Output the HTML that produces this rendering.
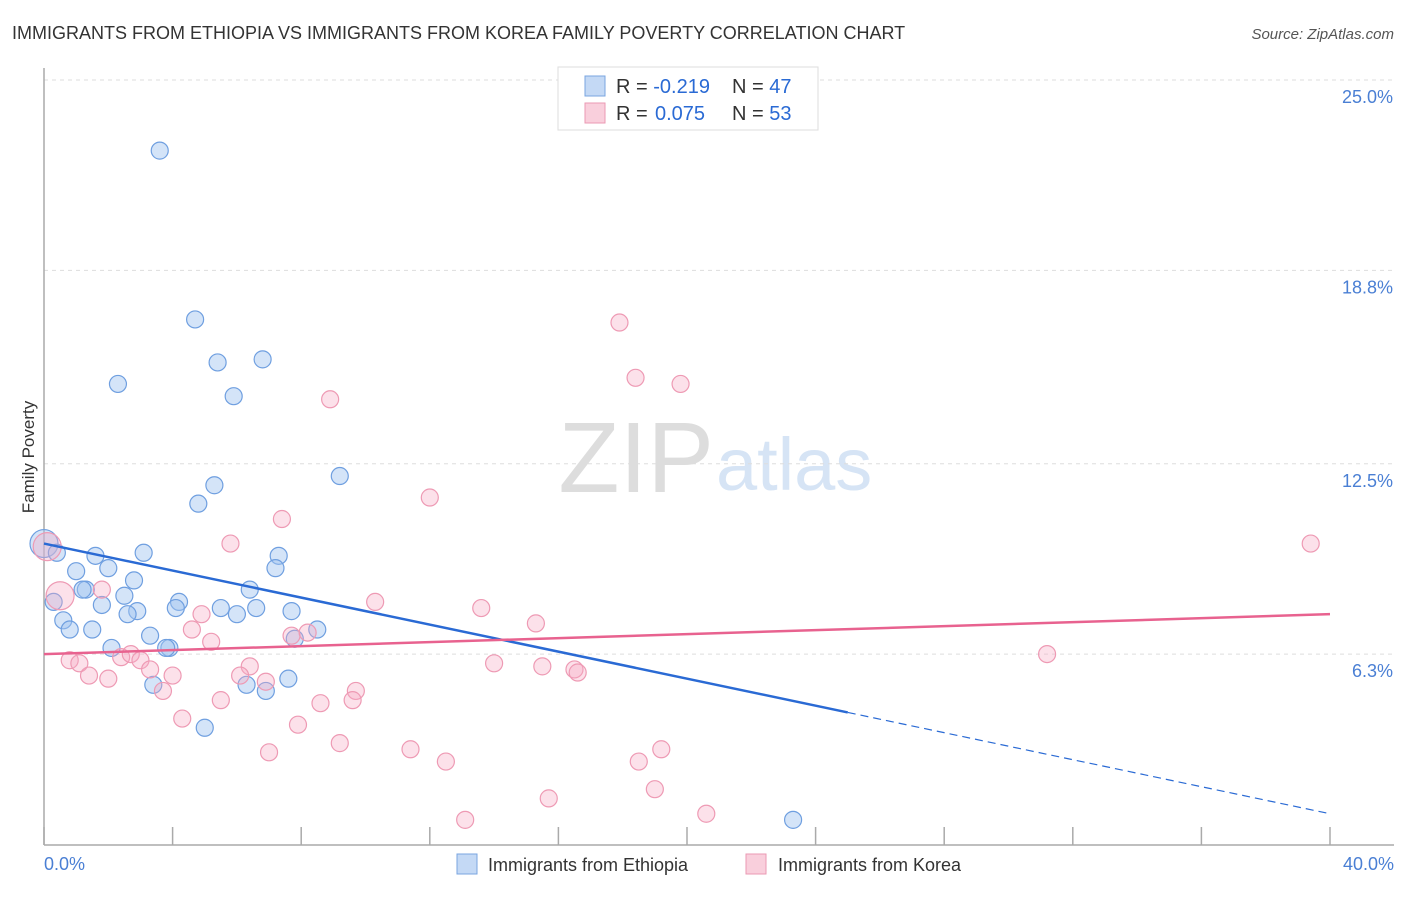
<!DOCTYPE html>
<html><head><meta charset="utf-8"><style>
body{margin:0;background:#fff;font-family:"Liberation Sans",sans-serif;}
svg text{font-family:"Liberation Sans",sans-serif;}
</style></head><body>
<svg width="1406" height="892" id="chart">
<text x="12" y="39" font-size="18" fill="#333">IMMIGRANTS FROM ETHIOPIA VS IMMIGRANTS FROM KOREA FAMILY POVERTY CORRELATION CHART</text>
<text x="1394" y="39" font-size="15" fill="#555" text-anchor="end" font-style="italic">Source: ZipAtlas.com</text>
<text x="714" y="492" font-size="100" fill="#ddd" text-anchor="end" font-family="Liberation Serif">ZIP</text>
<text x="716" y="490" font-size="74" fill="#d6e4f5">atlas</text>
<g id="grid"></g>
<g id="axes"></g>
<g id="pts"></g>
<g id="trend"></g>
<text transform="translate(34,457) rotate(-90)" font-size="17" fill="#333" text-anchor="middle">Family Poverty</text>
<text x="44" y="870" font-size="18" fill="#4a7fd4">0.0%</text>
<text x="1394" y="870" font-size="18" fill="#4a7fd4" text-anchor="end">40.0%</text>
<g>
<rect x="558" y="67" width="260" height="63" fill="#fff" stroke="#ddd"/>
<rect x="585" y="76" width="20" height="20" fill="#c4d9f5" stroke="#7aa5e0"/>
<rect x="585" y="103" width="20" height="20" fill="#f9cfdc" stroke="#eb9ab3"/>
<text x="616" y="93" font-size="20" fill="#333">R = <tspan fill="#2a6ad4">-0.219</tspan><tspan x="732">N = </tspan><tspan fill="#2a6ad4">47</tspan></text>
<text x="616" y="120" font-size="20" fill="#333">R = <tspan x="655" fill="#2a6ad4">0.075</tspan><tspan x="732">N = </tspan><tspan fill="#2a6ad4">53</tspan></text>
</g>
<g>
<rect x="457" y="854" width="20" height="20" fill="#c4d9f5" stroke="#7aa5e0"/>
<text x="488" y="871" font-size="18" fill="#333">Immigrants from Ethiopia</text>
<rect x="746" y="854" width="20" height="20" fill="#f9cfdc" stroke="#eb9ab3"/>
<text x="778" y="871" font-size="18" fill="#333">Immigrants from Korea</text>
</g>
</svg>
<script>
const yTicks=[25.0,18.8,12.5,6.3];
const yTickLabels=["25.0%","18.8%","12.5%","6.3%"];
const xTicks=[0,4,8,12,16,20,24,28,32,36,40];
const ethX=[3.6,4.7,5.4,6.8,2.3,5.9,5.3,9.2,4.8,0.0,0.4,1.6,3.1,7.3,7.2,1.0,2.0,2.8,6.4,1.3,1.2,0.3,2.5,1.8,4.2,4.1,5.5,6.6,2.9,2.6,6.0,7.7,0.6,0.8,1.5,8.5,3.3,7.8,2.1,3.9,3.8,3.4,6.3,6.9,7.6,5.0,23.3];
const ethY=[22.7,17.2,15.8,15.9,15.1,14.7,11.8,12.1,11.2,9.9,9.6,9.5,9.6,9.5,9.1,9.0,9.1,8.7,8.4,8.4,8.4,8.0,8.2,7.9,8.0,7.8,7.8,7.8,7.7,7.6,7.6,7.7,7.4,7.1,7.1,7.1,6.9,6.8,6.5,6.5,6.5,5.3,5.3,5.1,5.5,3.9,0.9];
const korX=[17.9,18.4,19.8,8.9,12.0,7.4,5.8,39.4,0.1,0.5,1.8,10.3,13.6,15.3,4.9,4.6,7.7,8.2,5.2,0.8,1.1,2.4,2.7,3.0,3.3,4.0,6.4,6.1,6.9,1.4,2.0,3.7,5.5,9.7,9.6,8.6,4.3,7.9,14.0,15.5,16.5,16.6,31.2,9.2,7.0,11.4,12.5,19.2,18.5,19.0,15.7,13.1,20.6];
const korY=[17.1,15.3,15.1,14.6,11.4,10.7,9.9,9.9,9.8,8.2,8.4,8.0,7.8,7.3,7.6,7.1,6.9,7.0,6.7,6.1,6.0,6.2,6.3,6.1,5.8,5.6,5.9,5.6,5.4,5.6,5.5,5.1,4.8,5.1,4.8,4.7,4.2,4.0,6.0,5.9,5.8,5.7,6.3,3.4,3.1,3.2,2.8,3.2,2.8,1.9,1.6,0.9,1.1];
const ethTrend=[0,9.9,25,4.4,40,1.1];
const korTrend=[0,6.3,40,7.6];
const NS="http://www.w3.org/2000/svg";
const X=v=>44+v*32.15, Y=v=>80+(25-v)*30.7;
function mk(t,a,p){const e=document.createElementNS(NS,t);for(const k in a)e.setAttribute(k,a[k]);document.getElementById(p).appendChild(e);return e;}
yTicks.forEach((v,i)=>{
 const l=mk('line',{x1:44,x2:1394,y1:Y(v),y2:Y(v),stroke:'#ddd','stroke-dasharray':'4,4'},'grid');
 
 
 const t=mk('text',{x:1393,y:Y(v)+23,'font-size':18,fill:'#4a7fd4','text-anchor':'end'},'grid');
 t.textContent=yTickLabels[i];
 
 
});
const ya=mk('line',{x1:44,x2:44,y1:68,y2:845,stroke:'#aaa','stroke-width':1.5},'axes');


const xa=mk('line',{x1:44,x2:1394,y1:845,y2:845,stroke:'#aaa','stroke-width':1.5},'axes');


xTicks.forEach(v=>{
 const t=mk('line',{x1:X(v),x2:X(v),y1:827,y2:845,stroke:'#aaa','stroke-width':1.5},'axes');
 
 
});
ethX.forEach((v,i)=>{
 const c=mk('circle',{cx:X(v),cy:Y(ethY[i]),r:i==9?14:8.5,fill:'rgba(160,195,240,0.45)',stroke:'#6f9fe0','stroke-width':1.2},'pts');
 
 
});
korX.forEach((v,i)=>{
 const c=mk('circle',{cx:X(v),cy:Y(korY[i]),r:(i==8||i==9)?14:8.5,fill:'rgba(245,170,195,0.35)',stroke:'#ee9ab4','stroke-width':1.2},'pts');
 
 
});
const b1=mk('line',{x1:X(ethTrend[0]),y1:Y(ethTrend[1]),x2:X(ethTrend[2]),y2:Y(ethTrend[3]),stroke:'#2a6ad4','stroke-width':2.5},'trend');


const b2=mk('line',{x1:X(ethTrend[2]),y1:Y(ethTrend[3]),x2:X(ethTrend[4]),y2:Y(ethTrend[5]),stroke:'#2a6ad4','stroke-width':1.2,'stroke-dasharray':'8,5'},'trend');


const k1=mk('line',{x1:X(korTrend[0]),y1:Y(korTrend[1]),x2:X(korTrend[2]),y2:Y(korTrend[3]),stroke:'#e8628f','stroke-width':2.5},'trend');


</script>
</body></html>
